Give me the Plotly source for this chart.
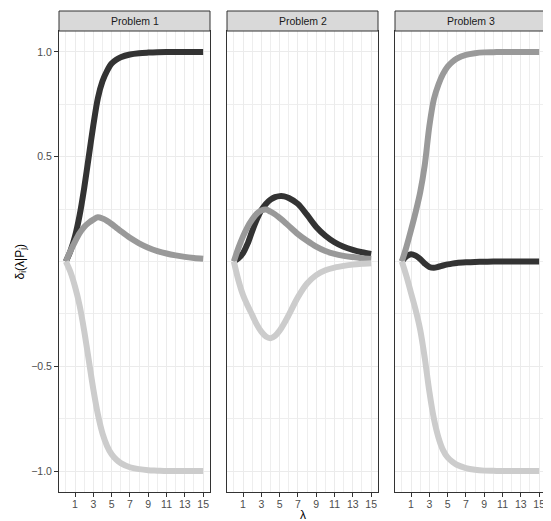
import plotly.graph_objects as go

# ---------------- data ----------------
lam = [0, 0.5, 1, 1.5, 2, 2.5, 3, 3.5, 4, 4.5, 5, 5.5, 6, 7, 8, 9, 10, 11, 12, 13, 14, 15]

problems = ["Problem 1", "Problem 2", "Problem 3"]

# Problem 1
p1_dark = [0, 0.05, 0.12, 0.22, 0.35, 0.50, 0.65, 0.78, 0.86, 0.91, 0.945, 0.963, 0.975, 0.988, 0.994, 0.997, 0.999, 1.0, 1.0, 1.0, 1.0, 1.0]
p1_mid = [0, 0.05, 0.095, 0.135, 0.165, 0.185, 0.200, 0.211, 0.205, 0.194, 0.179, 0.162, 0.145, 0.113, 0.087, 0.066, 0.050, 0.038, 0.029, 0.022, 0.017, 0.013]
p1_light = [0, -0.05, -0.12, -0.21, -0.33, -0.47, -0.61, -0.73, -0.82, -0.88, -0.92, -0.945, -0.962, -0.982, -0.991, -0.996, -0.998, -1.0, -1.0, -1.0, -1.0, -1.0]

# Problem 2
p2_dark = [0, 0.015, 0.04, 0.085, 0.145, 0.20, 0.245, 0.275, 0.295, 0.307, 0.312, 0.311, 0.303, 0.275, 0.222, 0.165, 0.123, 0.092, 0.070, 0.055, 0.044, 0.036]
p2_mid = [0, 0.065, 0.12, 0.165, 0.20, 0.228, 0.243, 0.248, 0.238, 0.225, 0.208, 0.19, 0.17, 0.131, 0.099, 0.071, 0.050, 0.036, 0.027, 0.021, 0.016, 0.012]
p2_light = [0, -0.09, -0.16, -0.21, -0.255, -0.30, -0.335, -0.358, -0.366, -0.355, -0.33, -0.295, -0.255, -0.17, -0.105, -0.065, -0.042, -0.029, -0.021, -0.015, -0.011, -0.008]

# Problem 3
p3_dark = [0, 0.025, 0.035, 0.028, 0.012, -0.01, -0.026, -0.03, -0.025, -0.019, -0.014, -0.01, -0.007, -0.004, -0.002, -0.001, 0, 0, 0, 0, 0, 0]
p3_mid = [0, 0.07, 0.15, 0.235, 0.33, 0.46, 0.645, 0.775, 0.845, 0.895, 0.93, 0.952, 0.968, 0.986, 0.994, 0.998, 0.999, 1.0, 1.0, 1.0, 1.0, 1.0]
p3_light = [0, -0.07, -0.15, -0.23, -0.325, -0.46, -0.62, -0.75, -0.84, -0.90, -0.935, -0.955, -0.97, -0.986, -0.994, -0.998, -0.999, -1.0, -1.0, -1.0, -1.0, -1.0]

series = [
    [p1_dark, p1_mid, p1_light],
    [p2_dark, p2_mid, p2_light],
    [p3_dark, p3_mid, p3_light],
]
colors = ["#333333", "#999999", "#CCCCCC"]

x_ticks = [1, 3, 5, 7, 9, 11, 13, 15]
x_minor = [0, 2, 4, 6, 8, 10, 12, 14]
y_ticks = [-1.0, -0.5, 0.5, 1.0]
y_ticktext = ["\u22121.0", "\u22120.5", "0.5", "1.0"]
y_minor = [-0.75, -0.25, 0, 0.25, 0.75]

# ---------------- layout geometry ----------------
# the page body has an 8px margin, so the figure is drawn 8px smaller
OFF = 8
W, H = 551 - OFF, 521 - OFF
L, R, T, B = 59 - OFF, 5, 31 - OFF, 29
pw = W - L - R
ph = H - T - B
panels_px = [(59 - OFF, 210 - OFF), (227 - OFF, 378 - OFF), (395 - OFF, 546 - OFF)]
domains = [((a - L) / pw, (b - L) / pw) for a, b in panels_px]
domains[-1] = (domains[-1][0], 1.0)

FONT = "Liberation Sans, Arial, sans-serif"

fig = go.Figure()

for i in range(3):
    xa = "x" if i == 0 else f"x{i+1}"
    ya = "y" if i == 0 else f"y{i+1}"
    for s, c in zip(series[i], colors):
        fig.add_trace(go.Scatter(
            x=lam, y=s, mode="lines", xaxis=xa, yaxis=ya,
            line=dict(color=c, width=6, shape="spline", smoothing=0.9),
            showlegend=False, hoverinfo="skip",
        ))

layout = dict(
    width=W, height=H,
    margin=dict(l=L, r=R, t=T, b=B, pad=0),
    paper_bgcolor="white", plot_bgcolor="white",
    font=dict(family=FONT, color="#4D4D4D", size=10.5),
    showlegend=False,
)

shapes = []
annotations = []
for i in range(3):
    xkey = "xaxis" if i == 0 else f"xaxis{i+1}"
    ykey = "yaxis" if i == 0 else f"yaxis{i+1}"
    ya = "y" if i == 0 else f"y{i+1}"
    xa = "x" if i == 0 else f"x{i+1}"
    layout[xkey] = dict(
        domain=list(domains[i]), anchor=ya, range=[-0.75, 15.75],
        tickmode="array", tickvals=x_ticks, ticktext=[str(v) for v in x_ticks],
        ticks="outside", ticklen=4, tickwidth=1, tickcolor="#333333",
        ticklabelstandoff=-2,
        tickfont=dict(family=FONT, size=10.5, color="#4D4D4D"),
        showgrid=True, gridcolor="#EBEBEB", gridwidth=1,
        minor=dict(tickvals=x_minor, showgrid=True, gridcolor="#EEEEEE", gridwidth=1, ticks=""),
        showline=True, mirror=True, linecolor="#333333", linewidth=1,
        zeroline=False, fixedrange=True,
    )
    layout[ykey] = dict(
        domain=[0, 1], anchor=xa, range=[-1.1, 1.1],
        tickmode="array", tickvals=y_ticks, ticktext=y_ticktext,
        ticks="outside" if i == 0 else "", ticklen=4, tickwidth=1, tickcolor="#333333",
        showticklabels=(i == 0),
        tickfont=dict(family=FONT, size=10.5, color="#4D4D4D"),
        showgrid=True, gridcolor="#EBEBEB", gridwidth=1,
        minor=dict(tickvals=y_minor, showgrid=True, gridcolor="#EEEEEE", gridwidth=1, ticks=""),
        showline=True, mirror=True, linecolor="#333333", linewidth=1,
        zeroline=False, fixedrange=True,
    )
    d0, d1 = domains[i]
    shapes.append(dict(
        type="rect", xref="paper", yref="paper",
        x0=d0, x1=d1, y0=1, y1=1 + 20 / ph,
        fillcolor="#D9D9D9", line=dict(color="#333333", width=1), layer="above",
    ))
    annotations.append(dict(
        text=problems[i], xref="paper", yref="paper",
        x=(d0 + d1) / 2, y=1 + 10 / ph, xanchor="center", yanchor="middle",
        showarrow=False, font=dict(family=FONT, size=10.5, color="#1A1A1A"),
    ))

annotations.append(dict(
    text="\u03b4<sub>i</sub>(\u03bb|P<sub>j</sub>)", xref="paper", yref="paper",
    x=(20 - OFF - L) / pw, y=0.5, xanchor="center", yanchor="middle", textangle=-90,
    showarrow=False, font=dict(family=FONT, size=12, color="black"),
))
annotations.append(dict(
    text="\u03bb", xref="paper", yref="paper",
    x=(302.5 - OFF - L) / pw, y=-(514.5 - OFF - (T + ph)) / ph, xanchor="center", yanchor="middle",
    showarrow=False, font=dict(family=FONT, size=12, color="black"),
))

layout["shapes"] = shapes
layout["annotations"] = annotations
fig.update_layout(**layout)

fig.write_html("out.html")
